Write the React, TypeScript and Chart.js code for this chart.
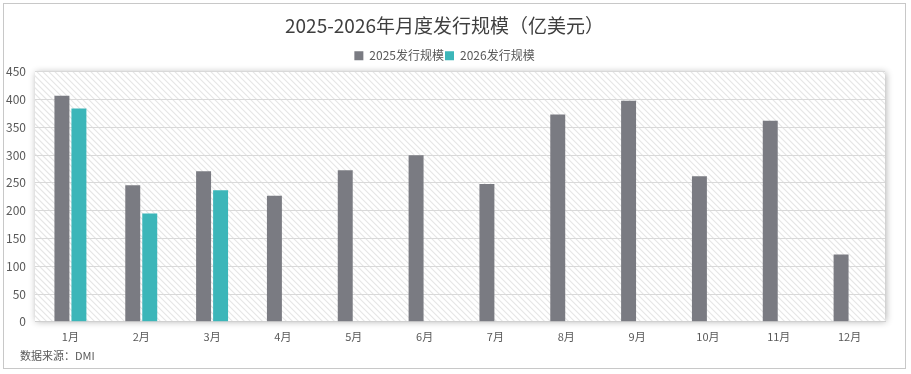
import React, { useEffect, useRef } from "react";
import { Chart, registerables } from "chart.js";

Chart.register(...registerables);

const TITLE = "2025-2026年月度发行规模（亿美元）";
const SOURCE = "数据来源：DMI";
const MONTHS = ["1月", "2月", "3月", "4月", "5月", "6月", "7月", "8月", "9月", "10月", "11月", "12月"];
const SERIES_2025_LABEL = "2025发行规模";
const SERIES_2026_LABEL = "2026发行规模";
const VALUES_2025 = [407, 246, 271, 227, 273, 300, 248, 373, 398, 262, 362, 121];
const VALUES_2026: (number | null)[] = [384, 195, 237, null, null, null, null, null, null, null, null, null];
const Y_MAX = 450;
const Y_STEP = 50;

const COLOR_2025 = "#7a7b82";
const COLOR_2026 = "#3cb6b9";
const FONT = "'Noto Sans CJK SC', 'Noto Sans', sans-serif";

const decorPlugin = {
  id: "decor",
  beforeDraw(chart: any) {
    const { ctx, chartArea, width, height } = chart;
    ctx.save();
    ctx.fillStyle = "#ffffff";
    ctx.fillRect(0, 0, width, height);
    ctx.strokeStyle = "#c8c8c8";
    ctx.lineWidth = 1;
    ctx.strokeRect(3.5, 3.5, width - 9, height - 9);
    const { left, top, right, bottom } = chartArea;
    ctx.shadowColor = "rgba(0,0,0,0.32)";
    ctx.shadowBlur = 7;
    ctx.shadowOffsetX = 1;
    ctx.shadowOffsetY = 0;
    ctx.fillStyle = "#ffffff";
    ctx.fillRect(left, top, right - left, bottom - top);
    ctx.shadowColor = "transparent";
    ctx.shadowBlur = 0;
    ctx.shadowOffsetX = 0;
    ctx.beginPath();
    ctx.rect(left, top, right - left, bottom - top);
    ctx.clip();
    ctx.strokeStyle = "#e6e6e6";
    ctx.lineWidth = 1.2;
    const h = bottom - top;
    ctx.beginPath();
    for (let x = left - h; x < right + 6; x += 6) {
      ctx.moveTo(x, top);
      ctx.lineTo(x + h, bottom);
    }
    ctx.stroke();
    ctx.restore();
  },
  afterDraw(chart: any) {
    const { ctx } = chart;
    ctx.save();
    ctx.fillStyle = "#595959";
    ctx.font = `11px ${FONT}`;
    ctx.textAlign = "left";
    ctx.textBaseline = "middle";
    ctx.fillText(SOURCE, 20, 356);
    ctx.restore();
  },
};

export default function App() {
  const ref = useRef<HTMLCanvasElement | null>(null);
  useEffect(() => {
    document.body.style.margin = "0";
    const canvas = ref.current!;
    const chart = new Chart(canvas, {
      type: "bar",
      data: {
        labels: MONTHS,
        datasets: [
          {
            label: SERIES_2025_LABEL,
            data: VALUES_2025,
            backgroundColor: COLOR_2025,
            categoryPercentage: 0.48,
            barPercentage: 0.88,
          },
          {
            label: SERIES_2026_LABEL,
            data: VALUES_2026,
            backgroundColor: COLOR_2026,
            categoryPercentage: 0.48,
            barPercentage: 0.88,
          },
        ],
      },
      options: {
        responsive: false,
        animation: false,
        devicePixelRatio: 1,
        layout: { padding: { left: 4, right: 26, top: 0, bottom: 23 } },
        plugins: {
          title: {
            display: true,
            text: TITLE,
            color: "#3f3f3f",
            font: { family: FONT, size: 19, weight: "normal" },
            padding: { top: 14, bottom: 12 },
          },
          legend: {
            display: true,
            position: "top",
            labels: {
              boxWidth: 9,
              boxHeight: 9,
              padding: 1,
              color: "#595959",
              font: { family: FONT, size: 12 },
            },
          },
          tooltip: { enabled: false },
        },
        scales: {
          x: {
            grid: { display: false, drawTicks: false },
            border: { display: true, color: "#d0d0d0" },
            ticks: { color: "#595959", font: { family: FONT, size: 11 }, padding: 8 },
          },
          y: {
            min: 0,
            max: Y_MAX,
            afterFit(s: any) {
              s.width = 31;
            },
            grid: { color: "#d9d9d9", drawTicks: false },
            border: { display: false },
            ticks: {
              stepSize: Y_STEP,
              color: "#595959",
              font: { family: FONT, size: 12 },
              padding: 9,
            },
          },
        },
      },
      plugins: [decorPlugin],
    });
    return () => chart.destroy();
  }, []);
  return <canvas ref={ref} width={911} height={374} style={{ display: "block" }} />;
}
